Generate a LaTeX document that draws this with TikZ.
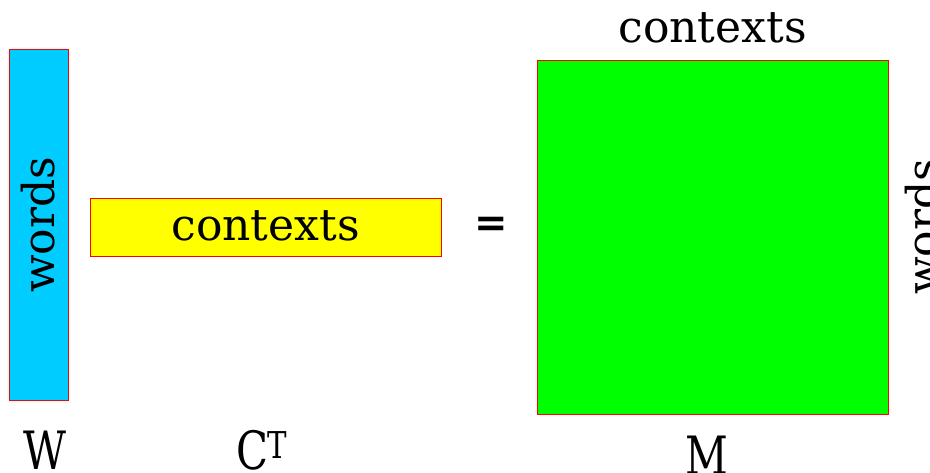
\documentclass[tikz,border=0pt]{standalone}
\usepackage{fontspec}
\setmainfont{DejaVu Serif}
\newfontfamily\eqfont{DejaVu Sans}
\usetikzlibrary{positioning}

\definecolor{wblue}{RGB}{0,204,255}
\definecolor{cyellow}{RGB}{255,255,0}
\definecolor{mgreen}{RGB}{0,255,0}

\tikzset{
  matbox/.style={draw=red, line width=1pt, inner sep=0pt, outer sep=0pt},
  bigtext/.style={font=\fontsize{44}{50}\selectfont, inner sep=0pt},
  namelabel/.style={font=\fontsize{44}{50}\selectfont, inner sep=0pt}
}

\begin{document}
\begin{tikzpicture}[x=1pt,y=-1pt]
  % page size of the reference
  \useasboundingbox (0,0) rectangle (930,473);

  % the three matrices
  \node[matbox, fill=wblue, rotate=90, minimum width=350pt, minimum height=59pt,
        bigtext] (W) at (38.5,225) {\raisebox{2pt}{words}};
  \node[matbox, fill=cyellow, minimum width=351pt, minimum height=58pt,
        bigtext] (C) at (265.5,228) {\raisebox{4pt}{contexts}};
  \node[matbox, fill=mgreen, minimum width=351pt, minimum height=353pt] (M) at (712.5,237.5) {};

  % equals sign
  \node[font=\eqfont\bfseries\fontsize{40}{46}\selectfont, inner sep=0pt] (eq) at (491,227) {=};

  % labels of the green matrix
  \node[bigtext, above=18pt of M] (Mtop) {contexts};
  \node[bigtext, rotate=90, anchor=north] (Mside) at (905,227) {words};

  % names below
  \node[namelabel] (Wname) at (45,450) {\scalebox{0.95}[1.2]{W}};
  \node[namelabel] (Cname) at (262,450) {\scalebox{0.95}[1.2]{C$^{\mathrm{T}}$}};
  \node[namelabel] (Mname) at (707,455) {\scalebox{0.95}[1.2]{M}};
\end{tikzpicture}
\end{document}
